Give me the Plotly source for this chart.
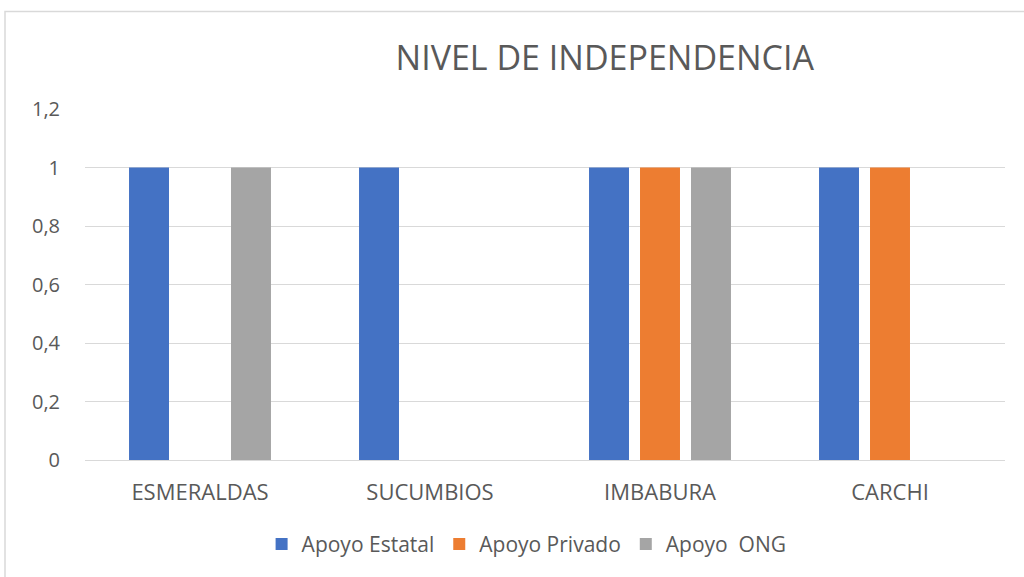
import plotly.graph_objects as go

categories = ["ESMERALDAS", "SUCUMBIOS", "IMBABURA", "CARCHI"]
apoyo_estatal = [1, 1, 1, 1]
apoyo_privado = [0, 0, 1, 1]
apoyo_ong = [1, 0, 1, 0]
series_names = ["Apoyo Estatal", "Apoyo Privado", "Apoyo  ONG"]
colors = ["#4472C4", "#ED7D31", "#A5A5A5"]

fig = go.Figure()
for name, vals, c in zip(series_names, [apoyo_estatal, apoyo_privado, apoyo_ong], colors):
    fig.add_trace(go.Bar(x=categories, y=vals, name=name, marker=dict(color=c, line=dict(width=0))))

txt = "#595959"
fnt = "Open Sans, sans-serif"

W, H = 1024, 577
fig.update_layout(
    width=W, height=H,
    margin=dict(l=85, r=19, t=109, b=115),
    paper_bgcolor="white", plot_bgcolor="white",
    separators=",.",
    barmode="group", bargap=0.335, bargroupgap=0.216,
    title=dict(text="NIVEL DE INDEPENDENCIA", x=0.565, xref="paper", xanchor="center",
               y=1 - 58 / H, yref="container", yanchor="middle",
               font=dict(family=fnt, size=34, color=txt)),
    xaxis=dict(showgrid=False, showline=False, ticks="", automargin=False,
               tickfont=dict(family=fnt, size=22, color=txt), ticklabelstandoff=17),
    yaxis=dict(range=[0, 1.2], dtick=0.2, tick0=0, showgrid=True, gridcolor="#D9D9D9", gridwidth=1.3,
               zeroline=True, zerolinecolor="#D9D9D9", zerolinewidth=1.3, showline=False, automargin=False,
               tickfont=dict(family=fnt, size=20, color=txt), ticklabelstandoff=24),
    legend=dict(orientation="h", x=0.48, xanchor="center", y=-0.24, yanchor="middle",
                font=dict(family=fnt, size=21, color=txt), itemwidth=30, traceorder="normal"),
    showlegend=True,
)

fig.add_shape(type="rect", xref="paper", yref="paper", x0=-80 / 920, x1=1.3, y0=-0.6, y1=1 + (109 - 11) / 353,
              line=dict(color="#D9D9D9", width=1.5), fillcolor="rgba(0,0,0,0)", layer="below")

fig.write_html("out.html", config={"displayModeBar": False},
               post_script="document.body.style.margin='0';")
